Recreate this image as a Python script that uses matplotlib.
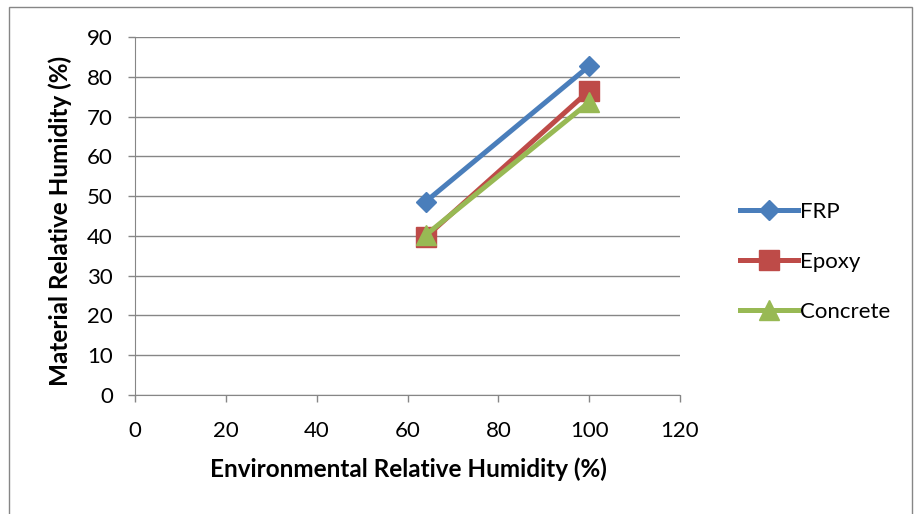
import matplotlib.pyplot as plt

# humidity measurements
env_rh = [64, 100]
frp = [48.6, 82.7]
epoxy = [39.7, 76.5]
concrete = [40.2, 73.6]

plt.rcParams['font.family'] = ['Lato', 'DejaVu Sans']

fig = plt.figure(figsize=(9.14, 5.14), dpi=100)
# chart border, runs past the bottom edge
fig.patches.append(plt.Rectangle((9 / 914, -0.05), 903 / 914, 1.05 - 7 / 514,
                                 transform=fig.transFigure, fill=False,
                                 edgecolor='#868686', linewidth=1))
ax = fig.add_axes([135 / 914, 119 / 514, 545 / 914, 358 / 514])

ax.plot(env_rh, frp, color='#4a7ebb', lw=3.6, marker='D', ms=10, label='FRP')
ax.plot(env_rh, epoxy, color='#be4b48', lw=3.6, marker='s', ms=14, label='Epoxy')
ax.plot(env_rh, concrete, color='#98b954', lw=3.6, marker='^', ms=14, label='Concrete')

ax.set_xlim(0, 120)
ax.set_ylim(0, 90)
ax.set_xticks(range(0, 121, 20))
ax.set_yticks(range(0, 91, 10))
ax.grid(axis='y', color='#868686', lw=1)
ax.set_axisbelow(True)
for s in ['top', 'right']:
    ax.spines[s].set_visible(False)
for s in ['left', 'bottom']:
    ax.spines[s].set_color('#868686')
ax.tick_params(colors='#868686', labelcolor='black', labelsize=16, length=5,
               width=1, direction='out')
ax.tick_params(axis='y', pad=11)
ax.tick_params(axis='x', pad=14)

ax.set_xlabel('Environmental Relative Humidity (%)', fontsize=17.5, fontweight='bold')
ax.set_ylabel('Material Relative Humidity (%)', fontsize=17.5, fontweight='bold')
ax.xaxis.set_label_coords(408 / 914, 1 - 469 / 514, transform=fig.transFigure)
ax.yaxis.set_label_coords(60 / 914, 1 - 221 / 514, transform=fig.transFigure)
ax.xaxis.label.set_va('center')
ax.yaxis.label.set_va('center')

fig.legend(loc='center left', bbox_to_anchor=(740 / 914, 1 - 262 / 514), frameon=False,
           fontsize=16, handlelength=2.6, handletextpad=0.1, labelspacing=1.35,
           borderpad=0, borderaxespad=0)

fig.savefig('out.png', dpi=100)
